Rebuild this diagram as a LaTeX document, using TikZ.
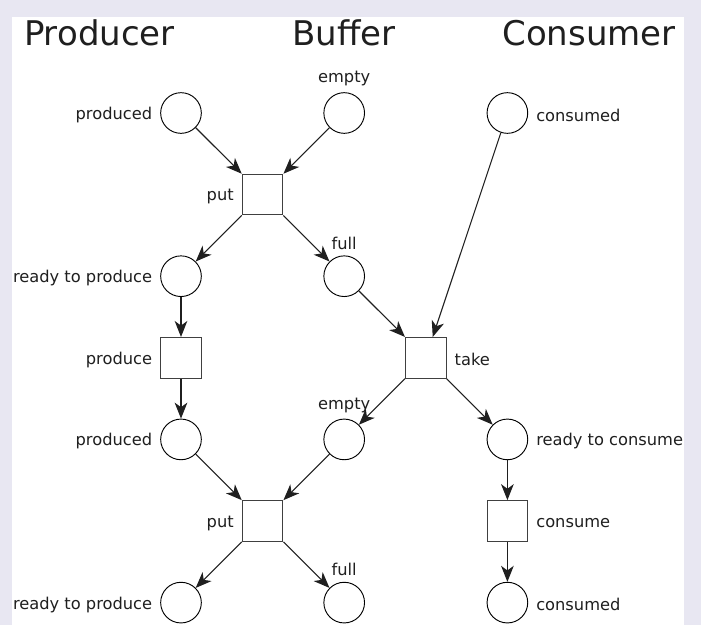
\documentclass[tikz,border=0pt]{standalone}
\usepackage{fontspec}
\setmainfont{DejaVu Sans}
\usetikzlibrary{arrows.meta}
\definecolor{bglilac}{RGB}{232,231,242}

\begin{document}
\begin{tikzpicture}[x=61.2pt, y=-61.2pt,
  place/.style={circle,draw,line width=0.7pt,minimum size=30.5pt,inner sep=0pt},
  trans/.style={rectangle,draw=black!75,line width=0.8pt,minimum size=30.5pt,inner sep=0pt},
  title/.style={font=\fontsize{25.5}{30}\selectfont,anchor=base,text=black!88},
  every label/.style={font=\fontsize{12.2}{14}\selectfont,text=black!88,yshift=-1.5pt},
  label distance=2.5pt,
  arc/.style={-{Stealth[length=12pt,width=9.5pt,inset=3.5pt]},line width=0.8pt,black!88}]
  \fill[bglilac] (-2.2181,-1.3848) rectangle (6.3725,6.2745);
  \fill[white] (-2.071,-1.176) rectangle (6.164,6.2745);
  \useasboundingbox (-2.2181,-1.3848) rectangle (6.3725,6.2745);

  \node[title] (tprod) at (-1,-0.833) {Producer};
  \node[title] (tbuf) at (2,-0.833) {Buffer};
  \node[title] (tcons) at (5,-0.833) {Consumer};

  \node[place,label=left:produced] (prod1) at (0,0) {};
  \node[place,label=above:empty] (emp1) at (2,0) {};
  \node[place,label=right:consumed] (cons1) at (4,0) {};

  \node[trans,label=left:put] (put1) at (1,1) {};

  \node[place,label=left:ready to produce] (rtp1) at (0,2) {};
  \node[place,label=above:full] (full1) at (2,2) {};

  \node[trans,label=left:produce] (produce) at (0,3) {};
  \node[trans,label=right:take] (take) at (3,3) {};

  \node[place,label=left:produced] (prod2) at (0,4) {};
  \node[place,label=above:empty] (emp2) at (2,4) {};
  \node[place,label=right:ready to consume] (rtc) at (4,4) {};

  \node[trans,label=left:put] (put2) at (1,5) {};
  \node[trans,label=right:consume] (consume) at (4,5) {};

  \node[place,label=left:ready to produce] (rtp2) at (0,6) {};
  \node[place,label=above:full] (full2) at (2,6) {};
  \node[place,label=right:consumed] (cons2) at (4,6) {};

  \draw[arc] (prod1) -- (put1);
  \draw[arc] (emp1) -- (put1);
  \draw[arc] (put1) -- (rtp1);
  \draw[arc] (put1) -- (full1);
  \draw[arc] (rtp1) -- (produce);
  \draw[arc] (produce) -- (prod2);
  \draw[arc] (full1) -- (take);
  \draw[arc] (cons1) -- (take);
  \draw[arc] (take) -- (emp2);
  \draw[arc] (take) -- (rtc);
  \draw[arc] (prod2) -- (put2);
  \draw[arc] (emp2) -- (put2);
  \draw[arc] (put2) -- (rtp2);
  \draw[arc] (put2) -- (full2);
  \draw[arc] (rtc) -- (consume);
  \draw[arc] (consume) -- (cons2);
\end{tikzpicture}
\end{document}
